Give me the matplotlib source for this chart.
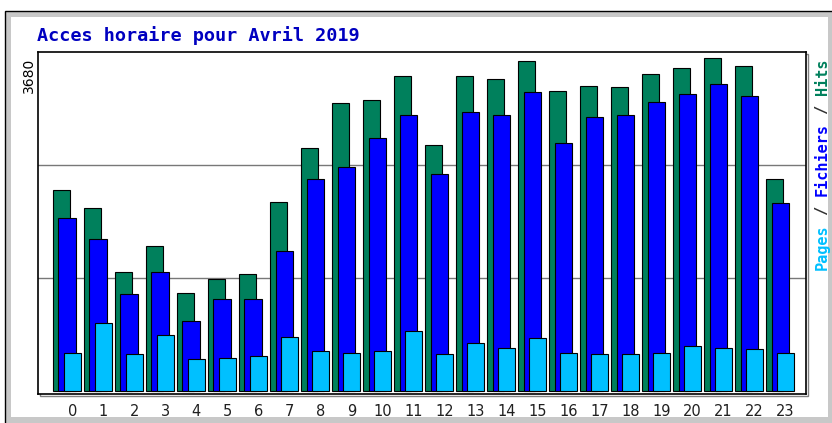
import matplotlib
matplotlib.use("Agg")
import matplotlib.pyplot as plt
from matplotlib.patches import Rectangle
import numpy as np

hours = list(range(24))
hour_labels = [str(h) for h in hours]
hits = [2182, 1986, 1292, 1574, 1064, 1216, 1270, 2052, 2638, 3126, 3159, 3419,
        2670, 3419, 3387, 3582, 3257, 3311, 3300, 3441, 3506, 3615, 3528, 2301]
files = [1878, 1650, 1053, 1292, 760, 999, 999, 1520, 2301, 2432, 2746, 2996,
         2356, 3029, 2996, 3246, 2692, 2974, 2996, 3137, 3224, 3332, 3202, 2041]
pages = [412, 738, 402, 608, 347, 358, 380, 586, 434, 412, 434, 651,
         402, 521, 467, 575, 412, 402, 402, 412, 488, 467, 456, 412]
ymax = 3680
title = "Acces horaire pour Avril 2019"

C_HITS = "#00805C"
C_FILES = "#0000FF"
C_PAGES = "#00C0FF"

W, H = 832, 423
fig = plt.figure(figsize=(W / 100, H / 100), dpi=100)
fig.patch.set_facecolor("white")

def px_rect(x0, y0, x1, y1, **kw):
    # pixel coords from top-left
    r = Rectangle((x0 / W, 1 - y1 / H), (x1 - x0) / W, (y1 - y0) / H,
                  transform=fig.transFigure, **kw)
    fig.add_artist(r)
    return r

# outer frame
px_rect(5, 11, 833, 424, facecolor="#C8C8C8", edgecolor="none", zorder=0)
px_rect(5, 11, 833, 424, facecolor="none", edgecolor="black", linewidth=1.0, zorder=0.5)
px_rect(11, 17, 828, 417, facecolor="white", edgecolor="none", zorder=0.6)
# plot shadow
px_rect(40, 54, 808, 396, facecolor="none", edgecolor="#808080", linewidth=1.0, zorder=0.7)

ax_left, ax_right, ax_top, ax_bot = 38, 806, 52, 394
ax = fig.add_axes([ax_left / W, 1 - ax_bot / H, (ax_right - ax_left) / W, (ax_bot - ax_top) / H])
ax.set_zorder(2)
ax.set_facecolor("white")

x = np.array(hours, dtype=float)
bw = 0.55
ax.bar(x, hits, width=bw, align="edge", color=C_HITS, edgecolor="black", linewidth=0.8, zorder=3)
ax.bar(x + 0.18, files, width=bw, align="edge", color=C_FILES, edgecolor="black", linewidth=0.8, zorder=4)
ax.bar(x + 0.36, pages, width=bw, align="edge", color=C_PAGES, edgecolor="black", linewidth=0.8, zorder=5)

for g in (ymax / 3, 2 * ymax / 3):
    ax.axhline(g, color="#787878", linewidth=1.0, zorder=1)

ax.set_xlim(-0.48, 24.29)
ax.set_ylim(-33, ymax)
ax.set_yticks([])
ax.set_xticks(x + 0.63)
ax.set_xticklabels(hour_labels, fontsize=10.5, family="DejaVu Sans", color="#202020")
ax.tick_params(axis="x", length=0, pad=7)
for s in ax.spines.values():
    s.set_color("black")
    s.set_linewidth(1.2)

# title
fig.text(37 / W, 1 - 36 / H, title, family="DejaVu Sans Mono", fontweight="bold",
         fontsize=13.3, color="#0000C0", ha="left", va="center", zorder=3)

# max label
fig.text(29 / W, 1 - 58 / H, str(ymax), rotation=90, fontsize=10, family="DejaVu Sans",
         ha="center", va="top", color="black", zorder=3)

# right legend label (multi-coloured, rotated)
pieces = [("Pages", C_PAGES), (" / ", "#303030"), ("Fichiers", C_FILES), (" / ", "#303030"), ("Hits", C_HITS)]
fs = 11
adv = 0.602 * fs * 100 / 72
ypos = 270
for txt, col in pieces:
    fig.text(822 / W, 1 - ypos / H, txt, rotation=90, rotation_mode="anchor",
             family="DejaVu Sans Mono", fontweight="bold", fontsize=fs, color=col,
             ha="left", va="center", zorder=3)
    ypos -= adv * len(txt)

fig.savefig("out.png", dpi=100, facecolor="white")
